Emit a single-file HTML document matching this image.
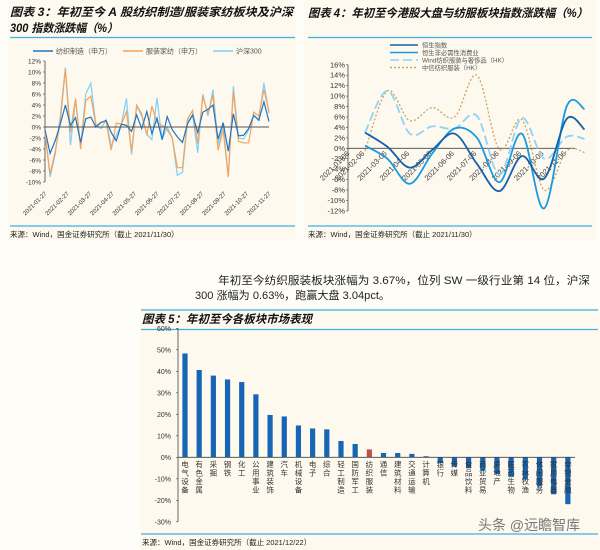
<!DOCTYPE html>
<html><head><meta charset="utf-8">
<style>
html,body{margin:0;padding:0;background:#fefdf8;}
svg{display:block;font-family:"Liberation Sans","Noto Sans CJK SC",sans-serif;}
</style></head>
<body>
<svg id="root" width="600" height="550" viewBox="0 0 600 550" xmlns="http://www.w3.org/2000/svg">
  <rect x="0" y="0" width="600" height="550" fill="#fefdf8"/>
  <rect x="8" y="0" width="288" height="240" fill="#fdf9ee"/>
  <rect x="304" y="0" width="292" height="240" fill="#fdf9ee"/>
  <rect x="140" y="308" width="460" height="242" fill="#fdf9ee"/>

  <g font-weight="bold" font-style="italic" font-size="11.5" fill="#111">
    <text x="10" y="16" textLength="283" lengthAdjust="spacingAndGlyphs">图表 3：年初至今 A 股纺织制造/服装家纺板块及沪深</text>
    <text x="10" y="32" textLength="108" lengthAdjust="spacingAndGlyphs">300 指数涨跌幅（%）</text>
  </g>
  <line x1="10" y1="37.5" x2="295" y2="37.5" stroke="#3fb0e6" stroke-width="1.2"/>
  <line x1="10" y1="226" x2="295" y2="226" stroke="#3fb0e6" stroke-width="1.2"/>
  <text x="10" y="237" font-size="7.5" fill="#222">来源：Wind，国金证券研究所（截止 2021/11/30）</text>

  <text x="308" y="17" font-weight="bold" font-style="italic" font-size="11.5" fill="#111" textLength="280" lengthAdjust="spacingAndGlyphs">图表 4：年初至今港股大盘与纺服板块指数涨跌幅（%）</text>
  <line x1="308" y1="37.5" x2="592" y2="37.5" stroke="#3fb0e6" stroke-width="1.2"/>
  <line x1="308" y1="226" x2="592" y2="226" stroke="#3fb0e6" stroke-width="1.2"/>
  <text x="308" y="237" font-size="7.5" fill="#222">来源：Wind，国金证券研究所（截止 2021/11/30）</text>

  <g font-size="11" fill="#222">
    <text x="218" y="284" textLength="372" lengthAdjust="spacingAndGlyphs">年初至今纺织服装板块涨幅为 3.67%，位列 SW 一级行业第 14 位，沪深</text>
    <text x="195" y="299" textLength="195" lengthAdjust="spacingAndGlyphs">300 涨幅为 0.63%，跑赢大盘 3.04pct。</text>
  </g>

  <line x1="141" y1="310" x2="598" y2="310" stroke="#3fb0e6" stroke-width="1.2"/>
  <text x="142" y="323" font-weight="bold" font-style="italic" font-size="11.5" fill="#111" textLength="170" lengthAdjust="spacingAndGlyphs">图表 5：年初至今各板块市场表现</text>
  <line x1="141" y1="329.5" x2="598" y2="329.5" stroke="#3fb0e6" stroke-width="1.2"/>
  <line x1="141" y1="534" x2="598" y2="534" stroke="#3fb0e6" stroke-width="1.2"/>
  <text x="142" y="545" font-size="7.5" fill="#222">来源：Wind，国金证券研究所（截止 2021/12/22）</text>
  <text x="478" y="530" font-size="14" fill="#777">头条 @远瞻智库</text>

  <g id="c3"></g>
  <g id="c4"></g>
  <g id="c5"></g>
</svg>
<script>
// ===== Chart 3 data =====
const c3Ticks = [12,10,8,6,4,2,0,-2,-4,-6,-8,-10];
const c3Months = ["2021-01-27","2021-02-27","2021-03-27","2021-04-27","2021-05-27","2021-06-27","2021-07-27","2021-08-27","2021-09-27","2021-10-27","2021-11-27"];
const c3Textile = [-0.5,-4.8,-2.5,0.5,4,0.3,1.7,-2.8,1.5,1.8,0,0.8,1.2,-1,-2.5,0.5,0.3,-0.8,2.2,-0.3,2.8,-1.2,1.6,-2.3,1.9,-0.5,-1.8,-2.8,0.6,2.2,-1,2.7,3.2,4,-2.2,0.8,-4.4,2.4,-1.6,-1.5,-0.3,2.1,1.2,4.6,1];
const c3Apparel = [-1,-8.5,-4.5,1,10.5,-1,5.2,-4,4.8,5.6,0.2,0.9,1,-4.2,0.7,0.5,2.8,-4.5,4,2.4,-1.5,3.8,0.8,0.3,-0.5,-2,-7.4,-7.4,1.5,3,-3,5.5,2.5,5.8,-4.2,-0.5,-9.1,6.5,-2.6,-2.9,-2.9,2.7,2,6.8,2.8];
const c3Hs300 = [-1,-9.1,-5,2,10.8,-3.3,5,-3.5,6,8,0.3,-0.3,1.3,-3.5,-1.5,0.5,5.2,-5,3.8,2,-1.3,-2.3,5.3,-2.3,0,-2,-8.8,-8.2,1,2.2,-4.7,6,2,6.8,-3.2,0.5,-9,7.4,-2,-2.2,-0.5,2.2,1.3,8,2.5];
const c3Legend = ["纺织制造（申万）","服装家纺（申万）","沪深300"];

// ===== Chart 4 data =====
const c4Ticks = [16,14,12,10,8,6,4,2,0,-2,-4,-6,-8,-10,-12];
const c4Labels = ["2021-01-06","2021-02-06","2021-03-06","2021-04-06","2021-05-06","2021-06-06","2021-07-06","2021-08-06","2021-09-06","2021-10-06","2021-11-06"];
const c4Months = [1,2,3,4,5,6,7,8,9,10,10.8];
const c4Hsi = [3,0.3,-3.7,-0.3,2.8,-3,-8.2,-1.5,-5.8,5.6,3.6];
const c4Consumer = [0.5,-2,-6.8,-1,3.8,2,-6.5,2.8,-11.5,8,7.5];
const c4WindTex = [3,11,2.8,4.2,3.8,6.2,-5,5.8,-2,2.2,1.8];
const c4CiticTex = [-0.5,11,5.3,7.8,6,14,-0.2,5.5,-8,-0.5,-0.8];
const c4Legend = ["恒生指数","恒生非必需性消费业","Wind纺织服装与奢侈品（HK）","中信纺织服装（HK）"];

// ===== Chart 5 data =====
const c5Sectors = ["电气设备","有色金属","采掘","钢铁","化工","公用事业","建筑装饰","汽车","机械设备","电子","综合","轻工制造","国防军工","纺织服装","通信","建筑材料","交通运输","计算机","银行","传媒","食品饮料","商业贸易","房地产","医药生物","农林牧渔","休闲服务","家用电器","非银金融"];
const c5Values = [48.3,40.6,38,36.2,35,29.3,19.7,19,14.8,13.4,13,7.6,6.2,3.67,2,2,1.6,0.5,-2.7,-4.4,-5.1,-6.3,-7.8,-9.1,-10.3,-13.6,-17.2,-21.8];
const c5Ticks = [60,50,40,30,20,10,0,-10,-20,-30];
const c5Highlight = "纺织服装";

const NS = "http://www.w3.org/2000/svg";
function mk(tag, attrs, parent){const e=document.createElementNS(NS,tag);for(const k in attrs)e.setAttribute(k,attrs[k]);parent.appendChild(e);return e;}
function smooth(pts){let d="M"+pts[0][0]+","+pts[0][1];for(let i=0;i<pts.length-1;i++){const p0=pts[i-1]||pts[i],p1=pts[i],p2=pts[i+1],p3=pts[i+2]||p2;const c1x=p1[0]+(p2[0]-p0[0])/6,c1y=p1[1]+(p2[1]-p0[1])/6,c2x=p2[0]-(p3[0]-p1[0])/6,c2y=p2[1]-(p3[1]-p1[1])/6;d+=" C"+c1x+","+c1y+" "+c2x+","+c2y+" "+p2[0]+","+p2[1];}return d;}

// ---------- Chart 3 ----------
(function(){
  const g=document.getElementById('c3');
  const x0=45,x1=269;
  const y3=v=>127-v*5.5;
  const xi=i=>x0+(x1-x0)*i/(c3Textile.length-1);
  const xm=i=>x0+(x1-x0)*i/(c3Months.length-1);
  const ax=mk('line',{x1:x0,y1:y3(12),x2:x0,y2:y3(-10),stroke:'#444','stroke-width':0.8},g);
  
  
  c3Ticks.forEach(t=>{
    const tl=mk('text',{x:41,y:y3(t)+2.3,'font-size':6.5,'text-anchor':'end',fill:'#333'},g);tl.textContent=t+'%';
    
    
    mk('line',{x1:x0-2,y1:y3(t),x2:x0,y2:y3(t),stroke:'#444','stroke-width':0.6},g);
  });
  c3Months.forEach((m,i)=>{
    const t=mk('text',{x:xm(i)+2,y:194,'font-size':6,'text-anchor':'end',fill:'#333',transform:`rotate(-45 ${xm(i)+2} 194)`},g);t.textContent=m;
    
    
  });
  const series=[[c3Hs300,'#7fd0f5','chart3-line-hs300'],[c3Apparel,'#f5a35a','chart3-line-apparel'],[c3Textile,'#1f77c4','chart3-line-textile']];
  series.forEach(s=>{
    const p=mk('polyline',{points:s[0].map((v,i)=>xi(i)+','+y3(v)).join(' '),fill:'none',stroke:s[1],'stroke-width':1.2},g);
    
    
  });
  const zl=mk('line',{x1:x0,y1:y3(0),x2:x1,y2:y3(0),stroke:'#555','stroke-width':0.9},g);
  
  
  const lc=['#1f77c4','#f5a35a','#7fd0f5'],lx=[33,123,213];
  c3Legend.forEach((n,i)=>{
    mk('line',{x1:lx[i],y1:51,x2:lx[i]+20,y2:51,stroke:lc[i],'stroke-width':1.5},g);
    const t=mk('text',{x:lx[i]+23,y:53.5,'font-size':7,fill:'#555'},g);t.textContent=n;
    
    
  });
})();

// ---------- Chart 4 ----------
(function(){
  const g=document.getElementById('c4');
  const ax0=348;
  const y4=v=>148.3-v*5.22;
  const x4=m=>365+(m-1)*22.4;
  const ax=mk('line',{x1:ax0,y1:y4(16),x2:ax0,y2:y4(-12),stroke:'#444','stroke-width':0.8},g);
  
  
  c4Ticks.forEach(t=>{
    const tl=mk('text',{x:345,y:y4(t)+2.5,'font-size':7.5,'text-anchor':'end',fill:'#333'},g);tl.textContent=t+'%';
    
    
    mk('line',{x1:ax0-2,y1:y4(t),x2:ax0,y2:y4(t),stroke:'#444','stroke-width':0.6},g);
  });
  const zl=mk('line',{x1:ax0,y1:y4(0),x2:575,y2:y4(0),stroke:'#444','stroke-width':0.8},g);
  
  
  c4Labels.forEach((l,i)=>{
    const xx=i===0?350:x4(i);
    const t=mk('text',{x:xx,y:154,'font-size':7.5,'text-anchor':'end',fill:'#444',transform:`rotate(-45 ${xx} 154)`},g);t.textContent=l;
    
    
  });
  const series=[
    [c4CiticTex,'#c9a462','1.3','2,2','chart4-line-citic-textile'],
    [c4WindTex,'#8fd3f5','1.8','9,4','chart4-line-wind-textile'],
    [c4Consumer,'#1a9ae0','1.8','','chart4-line-hs-consumer'],
    [c4Hsi,'#1560a8','1.8','','chart4-line-hsi']];
  series.forEach(s=>{
    const p=mk('path',{d:smooth(s[0].map((v,i)=>[x4(c4Months[i]),y4(v)])),fill:'none',stroke:s[1],'stroke-width':s[2]},g);
    if(s[3])p.setAttribute('stroke-dasharray',s[3]);
    
    
  });
  const lcol=['#1560a8','#1a9ae0','#8fd3f5','#c9a462'],ld=['','','9,4','2,2'],ly=[45,52.5,60,67.5];
  c4Legend.forEach((n,i)=>{
    const l=mk('line',{x1:390,y1:ly[i],x2:418,y2:ly[i],stroke:lcol[i],'stroke-width':1.6},g);
    if(ld[i])l.setAttribute('stroke-dasharray',ld[i]);
    const t=mk('text',{x:422,y:ly[i]+2.3,'font-size':6.3,fill:'#555'},g);t.textContent=n;
    
    
  });
})();

// ---------- Chart 5 ----------
(function(){
  const g=document.getElementById('c5');
  const ax0=178;
  const y5=v=>457.3-v*2.15;
  const x5=i=>185+i*14.18;
  const ax=mk('line',{x1:ax0,y1:y5(60),x2:ax0,y2:y5(-30),stroke:'#444','stroke-width':0.8},g);
  
  
  c5Ticks.forEach(t=>{
    const tl=mk('text',{x:171,y:y5(t)+2.5,'font-size':7,'text-anchor':'end',fill:'#333'},g);tl.textContent=t+'%';
    
    
    mk('line',{x1:ax0-2,y1:y5(t),x2:ax0,y2:y5(t),stroke:'#444','stroke-width':0.6},g);
  });
  c5Values.forEach((v,i)=>{
    const y=Math.min(y5(v),y5(0)),h=Math.abs(y5(v)-y5(0));
    const r=mk('rect',{x:x5(i)-2.6,y:y,width:5.2,height:h,fill:c5Sectors[i]===c5Highlight?'#c0504d':'#1766b5'},g);
    
    
  });
  const zl=mk('line',{x1:ax0,y1:y5(0),x2:575,y2:y5(0),stroke:'#444','stroke-width':0.8},g);
  
  
  c5Sectors.forEach((s,i)=>{
    const t=mk('text',{x:x5(i),y:467,'font-size':7.5,fill:'#333','text-anchor':'middle'},g);
    
    
    Array.from(s).forEach((ch,k)=>{
      const sp=mk('tspan',{x:x5(i),dy:k===0?0:8.5},t);
      sp.textContent=ch;
    });
  });
})();
</script>
</body></html>
